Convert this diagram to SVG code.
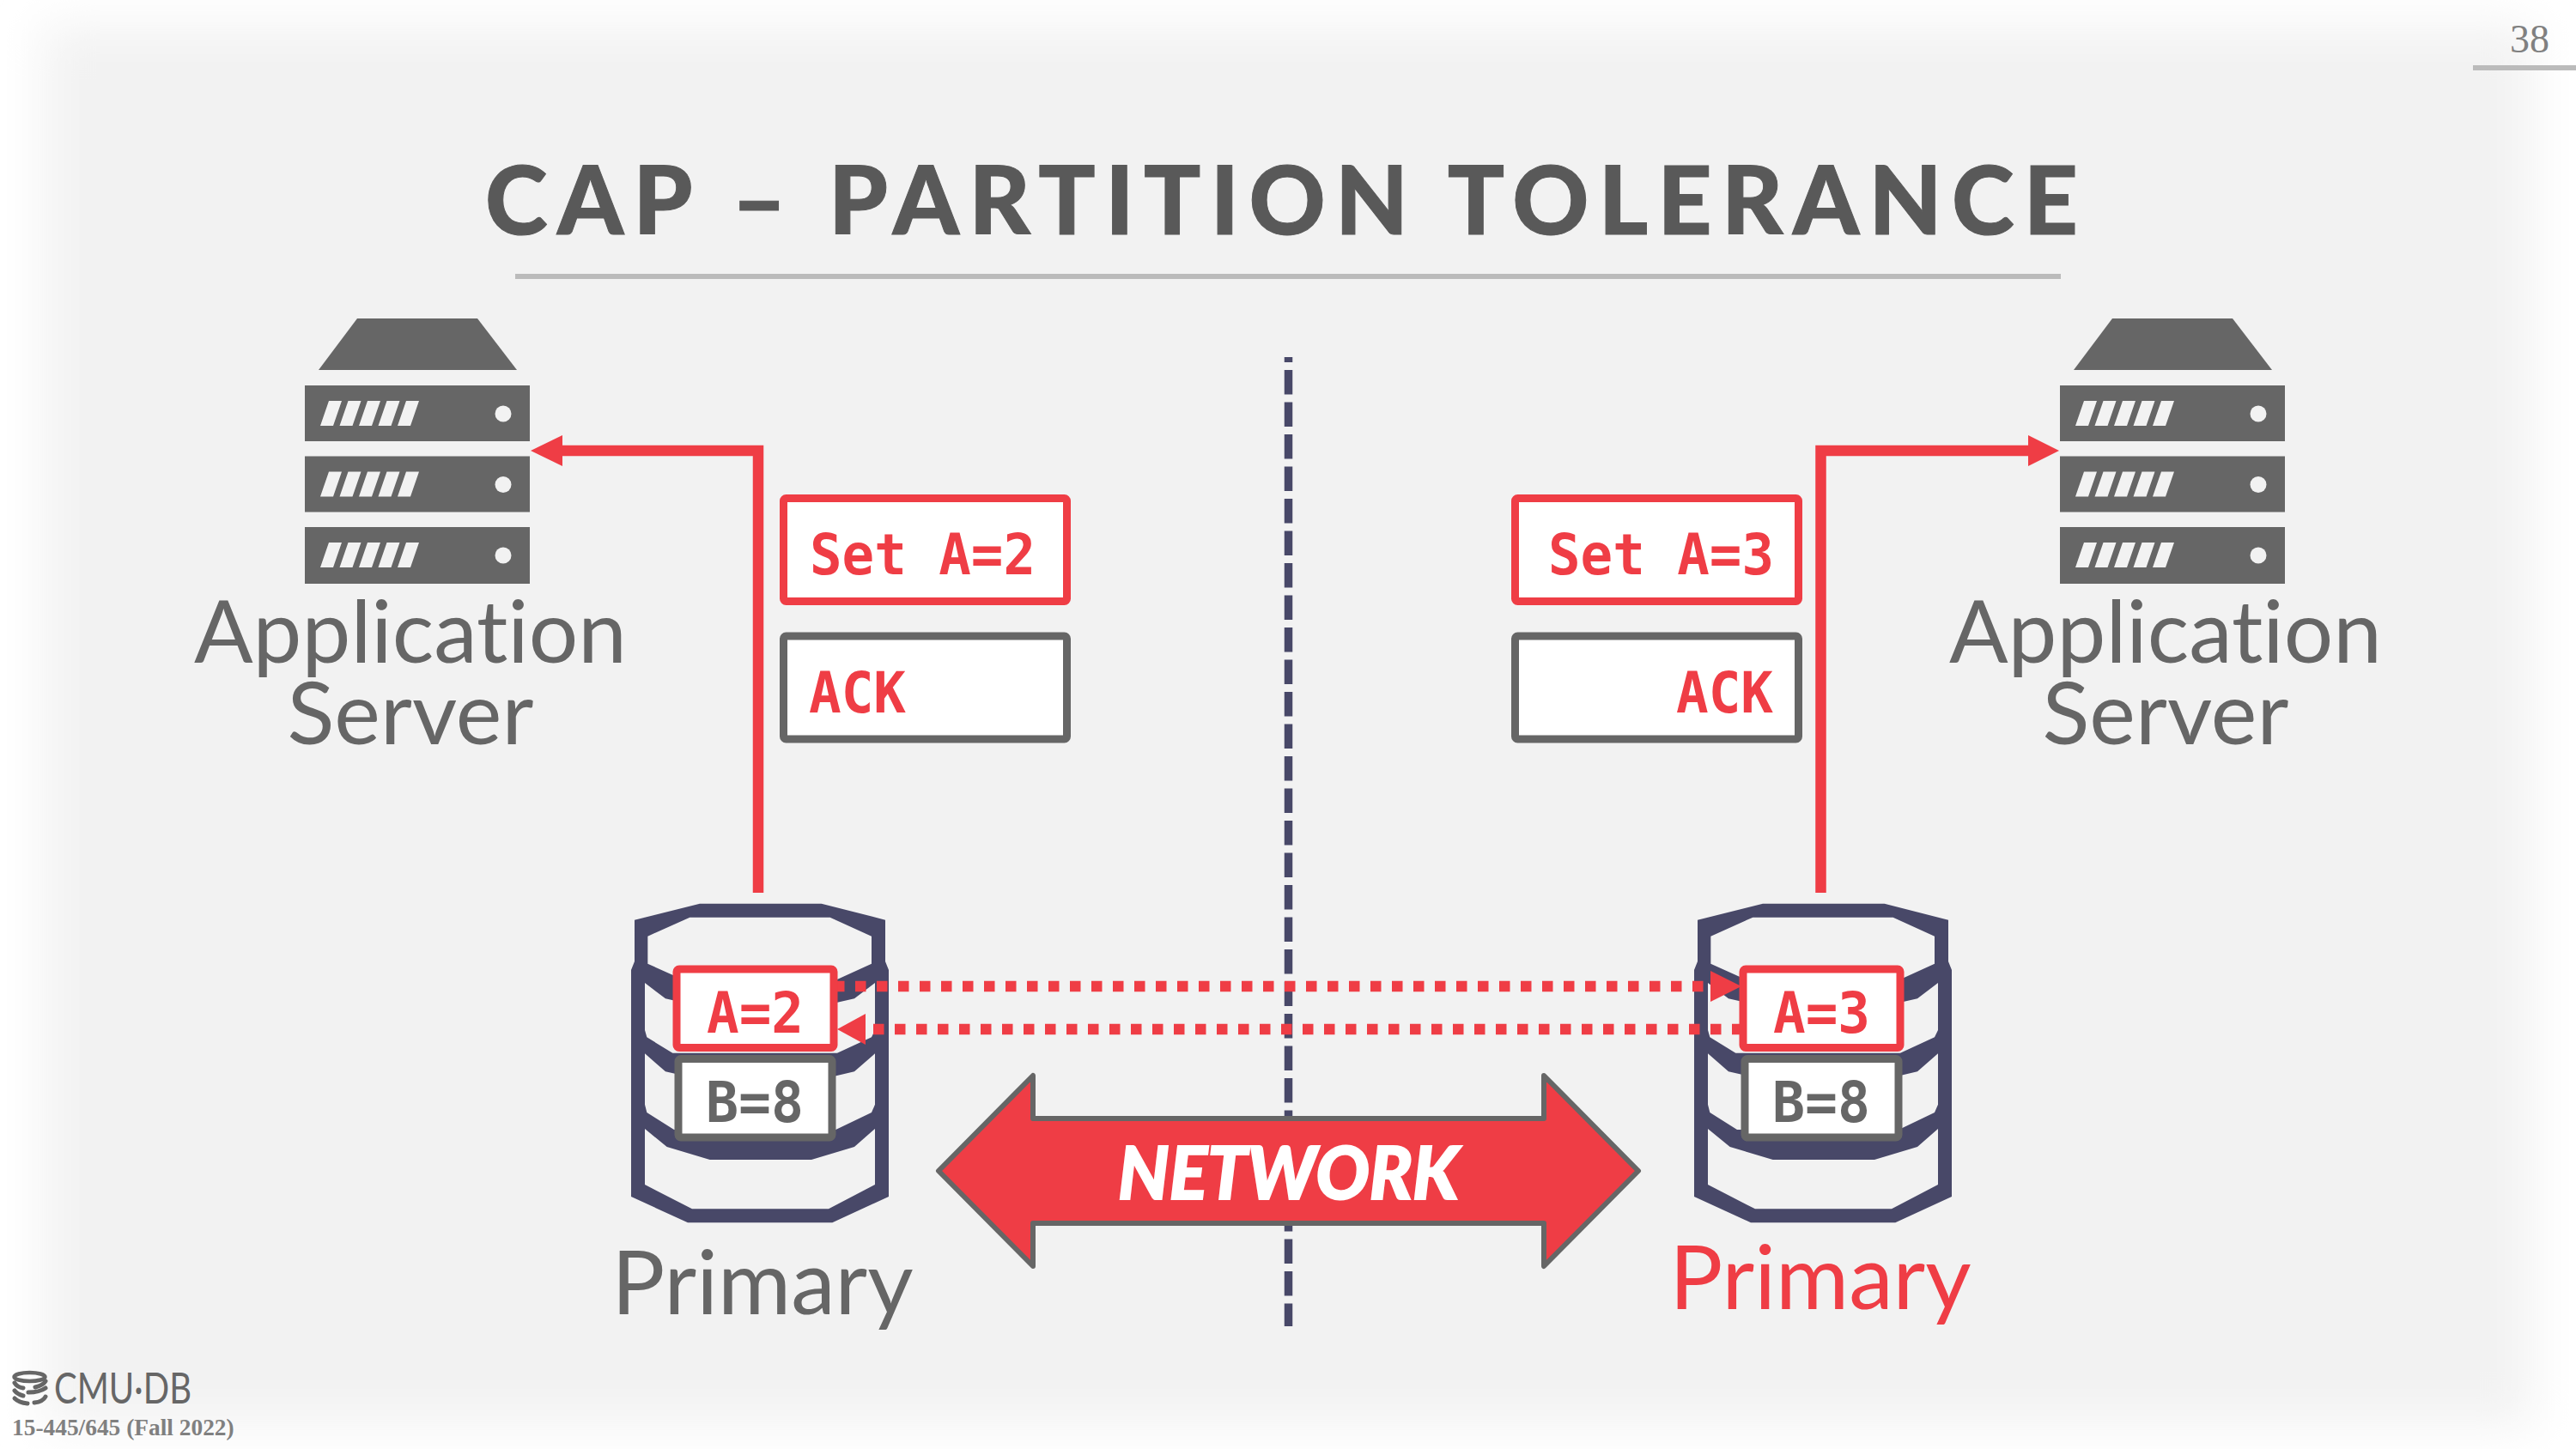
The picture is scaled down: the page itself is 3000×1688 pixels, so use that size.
<svg xmlns="http://www.w3.org/2000/svg" xmlns:xlink="http://www.w3.org/1999/xlink" width="3000" height="1688" viewBox="0 0 3000 1688">
<style>
.mono{font-family:"DejaVu Sans Mono","Liberation Mono",monospace;font-weight:700;font-size:65px}
.lab{font-family:Lato,"Liberation Sans",sans-serif;font-size:101.500px;fill:#666;text-anchor:middle;font-variant-ligatures:none}
.prim{font-size:103.500px}
.box{fill:#fff;stroke-width:9px}
.r{stroke:#ef3d45}.g{stroke:#666}
.rt{fill:#ef3d45}.gt{fill:#666}
.red{stroke:#ef3d45;stroke-width:12.5px;fill:none}
</style>
<defs>
<filter id="soft" x="-5%" y="-5%" width="110%" height="110%"><feGaussianBlur stdDeviation="28"/></filter>
<g id="slots" fill="#f2f2f2"><path d="M373 496L383 467H398L388 496ZM395.500 496L405.500 467H420.500L410.500 496ZM418 496L428 467H443L433 496ZM440.500 496L450.500 467H465.500L455.500 496ZM463 496L473 467H488L478 496Z"/><circle cx="586" cy="482" r="9.500"/></g>
<g id="server"><path fill="#666" d="M416 371H556L602 431H371Z"/>
<rect x="355" y="449" width="262" height="65" fill="#666"/><rect x="355" y="531.500" width="262" height="65" fill="#666"/><rect x="355" y="614" width="262" height="66" fill="#666"/>
<use xlink:href="#slots"/><use xlink:href="#slots" y="82.500"/><use xlink:href="#slots" y="165"/></g>
<path id="cyl" fill="#484868" fill-rule="evenodd" transform="translate(700 1030) scale(.33333)" d="M117 125L345 68H770L993 125V270L1005 300V1092L808 1183H303L105 1092V300L117 270Z
M163 182L310 116H800L945 182V278L810 340H300L163 278Z
M153 345L225 400L380 435H730L885 400L957 345V510L945 535L825 590H250L160 535L153 510Z
M153 592L225 655L380 690H735L885 655L957 592V770L945 798L820 858H255L160 798L153 770Z
M153 855L230 918L380 963H735L885 918L957 855V1050L795 1135H318L153 1050Z"/>
</defs>
<rect width="3000" height="1688" fill="#fff"/>
<rect x="50" y="30" width="2900" height="1630" fill="#f2f2f2" filter="url(#soft)"/>
<g id="page-number"><text x="2946" y="61" font-family="Liberation Serif,serif" font-size="46" fill="#808080" text-anchor="middle">38</text><rect x="2880" y="76" width="120" height="6" fill="#bbb"/></g>
<g id="title"><text x="565" y="273" font-family="Lato,sans-serif" font-weight="900" font-size="110" fill="#595959" stroke="#595959" stroke-width="1" textLength="1855" lengthAdjust="spacing">CAP – PARTITION TOLERANCE</text><rect x="600" y="319" width="1800" height="6" fill="#bbb"/></g>
<g id="partition"><path d="M1500.500 416V1545" fill="none" stroke="#484868" stroke-width="9.500" stroke-dasharray="28.500 9" stroke-dashoffset="22.500"/></g>
<g id="db-left"><use xlink:href="#cyl"/></g>
<g id="db-right"><use xlink:href="#cyl" x="1238"/></g>
<g id="connectors">
<path class="red" d="M883 1040V525H650"/><path class="rt" d="M618 525L655 507V543Z"/>
<path class="red" d="M2120.500 1040V525H2365"/><path class="rt" d="M2398 525L2362 507V543Z"/>
<path class="red" stroke-dasharray="12.500 12.500" d="M971 1149H1992"/><path class="rt" d="M2028 1149L1992 1131V1167Z"/>
<path class="red" stroke-dasharray="12.500 12.500" d="M1017 1199H2030"/><path class="rt" d="M975 1199L1008 1181V1217Z"/>
</g>
<g id="a2"><rect class="box r" x="788" y="1129" width="183" height="91.500" rx="3"/><text class="mono rt" x="823" y="1203" textLength="113" lengthAdjust="spacingAndGlyphs">A=2</text></g>
<g id="b8-left"><rect class="box g" x="790" y="1233.500" width="179" height="91.500" rx="3"/><text class="mono gt" x="822" y="1307" textLength="114" lengthAdjust="spacingAndGlyphs">B=8</text></g>
<g id="a3"><rect class="box r" x="2030" y="1129" width="183" height="91.500" rx="3"/><text class="mono rt" x="2065" y="1203" textLength="113" lengthAdjust="spacingAndGlyphs">A=3</text></g>
<g id="b8-right"><rect class="box g" x="2032" y="1233.500" width="179" height="91.500" rx="3"/><text class="mono gt" x="2064" y="1307" textLength="114" lengthAdjust="spacingAndGlyphs">B=8</text></g>
<g id="server-left"><use xlink:href="#server"/><text class="lab" x="478" y="772">Application</text><text class="lab" x="478" y="867">Server</text></g>
<g id="server-right"><use xlink:href="#server" x="2044"/><text class="lab" x="2522" y="772">Application</text><text class="lab" x="2522" y="867">Server</text></g>
<g id="msg-set2"><rect class="box r" x="912.500" y="580.500" width="330" height="120" rx="3"/><text class="mono rt" x="943" y="669" textLength="263" lengthAdjust="spacingAndGlyphs" xml:space="preserve">Set A=2</text></g>
<g id="msg-ack-left"><rect class="box g" x="912.500" y="741" width="330" height="120" rx="3"/><text class="mono rt" x="942" y="830" textLength="113" lengthAdjust="spacingAndGlyphs">ACK</text></g>
<g id="msg-set3"><rect class="box r" x="1764.500" y="580.500" width="330" height="120" rx="3"/><text class="mono rt" x="1803" y="669" textLength="263" lengthAdjust="spacingAndGlyphs" xml:space="preserve">Set A=3</text></g>
<g id="msg-ack-right"><rect class="box g" x="1764.500" y="741" width="330" height="120" rx="3"/><text class="mono rt" x="1952" y="830" textLength="113" lengthAdjust="spacingAndGlyphs">ACK</text></g>
<g id="network"><path d="M1093 1364L1203 1253V1303H1798V1253L1908 1364L1798 1475V1425H1203V1475Z" fill="#ef3d45" stroke="#666" stroke-width="6" stroke-linejoin="round"/><text x="1302" y="1397" font-family="Lato,sans-serif" font-weight="900" font-style="italic" font-size="86" fill="#fff" stroke="#fff" stroke-width="2" textLength="397" lengthAdjust="spacingAndGlyphs">NETWORK</text></g>
<g id="primary-left"><text class="lab prim" x="888" y="1531">Primary</text></g>
<g id="primary-right"><text class="lab prim" x="2120" y="1525" style="fill:#ef3d45">Primary</text></g>
<g id="footer"><g fill="none" stroke="#666" stroke-linecap="round"><ellipse cx="34.500" cy="1604" rx="18" ry="5" stroke-width="4.500"/><path stroke-width="5" d="M17 1611Q20 1616 27 1617M53 1609Q50 1614 41 1616M17 1620Q20 1624 27 1626M33 1622Q46 1622 53 1617M17 1629Q22 1634 32 1635M40 1634Q50 1633 53 1627"/></g>
<text x="63" y="1635" font-family="Lato,sans-serif" font-size="51" fill="#666" textLength="160" lengthAdjust="spacingAndGlyphs">CMU·DB</text>
<text x="14" y="1672" font-family="Liberation Serif,serif" font-weight="700" font-size="27.400" fill="#808080">15-445/645 (Fall 2022)</text></g>
</svg>
